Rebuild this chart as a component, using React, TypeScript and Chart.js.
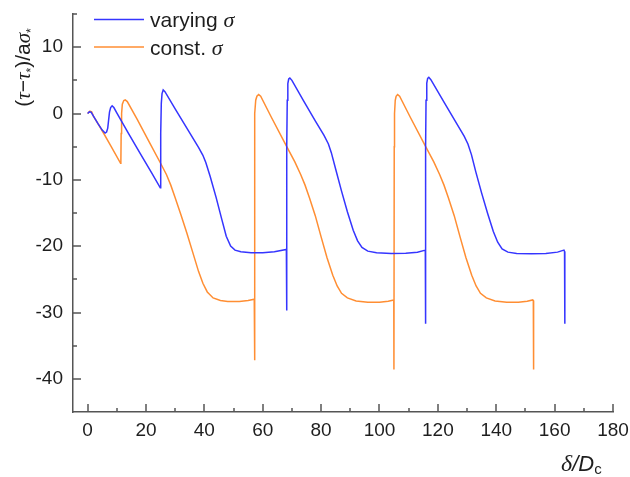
import React, { useEffect, useRef } from 'react';
import { Chart, registerables } from 'chart.js';

Chart.register(...registerables);

// ---------- data ----------
const varyingX = [
  0, 0.6, 1.2, 2.0, 3.5, 5.0, 6.0, 6.5, 6.9, 7.2, 7.5, 7.9, 8.4, 9.0, 10.0, 14.0, 18.0, 22.0, 24.9,
  25.0, 25.1, 25.25, 25.5, 25.9, 26.5, 30.0, 34.0, 38.0, 39.5, 40.5, 42.0, 44.0, 46.0, 47.5, 49.0,
  50.5, 52.5, 56.0, 60.0, 64.0, 68.1,
  68.15, 68.3, 68.4, 68.6, 68.9, 69.3, 70.0, 74.0, 78.0, 81.0, 82.5, 83.5, 85.0, 87.0, 89.0, 91.0,
  92.5, 94.0, 96.0, 99.0, 104.0, 109.0, 113.0, 115.7,
  115.75, 115.85, 115.95, 116.2, 116.5, 116.9, 117.6, 122.0, 126.0, 129.0, 130.3, 131.5, 133.0,
  135.0, 137.0, 139.0, 140.5, 142.0, 144.0, 147.0, 152.0, 157.0, 161.0, 163.2, 163.4, 163.5,
];
const varyingY = [
  0, 0.25, 0.2, -0.4, -1.5, -2.5, -2.95, -2.8, -2.2, -1.0, 0.2, 0.9, 1.15, 0.9, 0.1, -3.0, -6.0, -9.0, -11.2,
  -8.0, -3.0, 1.5, 3.0, 3.55, 3.3, 0.7, -2.2, -5.1, -6.3, -7.4, -9.5, -12.6, -16.0, -18.5, -20.0,
  -20.6, -20.85, -21.0, -21.0, -20.85, -20.5,
  -29.7, -5.0, 2.0, 4.5, 5.2, 5.35, 5.0, 1.9, -1.1, -3.3, -4.6, -5.9, -8.4, -11.7, -14.8, -17.6,
  -19.2, -20.2, -20.75, -21.0, -21.1, -21.05, -20.9, -20.6,
  -31.7, -5.0, 2.0, 4.6, 5.3, 5.45, 5.1, 1.8, -1.2, -3.4, -4.6, -6.2, -8.8,
  -12.0, -15.0, -17.8, -19.4, -20.4, -20.9, -21.1, -21.15, -21.1, -20.9, -20.6, -20.8, -31.7,
];

const constX = [
  0, 0.8, 1.4, 2.0, 3.5, 5.0, 8.0, 11.3, 11.4, 11.5, 11.65, 11.9, 12.4, 12.9, 13.6, 17.0, 21.0, 25.0,
  27.0, 28.5, 30.0, 32.0, 34.0, 36.0, 38.0, 39.5, 41.0, 43.0, 45.5, 48.0, 52.0, 55.0, 57.1,
  57.15, 57.25, 57.35, 57.6, 58.0, 58.6, 59.3, 63.0, 68.0, 71.0, 73.0, 74.5, 76.0, 78.0, 80.0, 82.0,
  84.0, 85.5, 87.0, 89.0, 92.0, 96.0, 100.0, 103.0, 104.9,
  104.95, 105.05, 105.15, 105.4, 105.7, 106.2, 106.9, 110.6, 115.6, 118.6, 120.6, 122.1, 123.6, 125.6,
  127.6, 129.6, 131.6, 133.1, 134.6, 136.6, 139.6, 143.6, 147.6, 150.6, 152.5, 152.7, 152.8,
];
const constY = [
  0, 0.35, 0.25, -0.4, -1.5, -2.6, -4.9, -7.5, -7.3, -3.0, 0.0, 1.4, 1.95, 2.05, 1.8, -0.9, -4.2, -7.5,
  -9.2, -10.8, -12.7, -15.3, -18.0, -20.9, -23.8, -25.6, -26.9, -27.8, -28.2, -28.35, -28.35, -28.2, -28.0,
  -37.2, -5.0, 0.0, 2.0, 2.6, 2.85, 2.6, -0.6, -4.8, -7.3, -9.2, -10.8, -12.7, -15.4, -18.6, -21.7,
  -24.4, -26.0, -27.1, -27.8, -28.25, -28.45, -28.45, -28.3, -28.1,
  -38.6, -5.0, 0.0, 2.0, 2.6, 2.85, 2.6, -0.6, -4.8, -7.3, -9.2, -10.8, -12.7, -15.4,
  -18.6, -21.7, -24.4, -26.0, -27.1, -27.8, -28.25, -28.45, -28.45, -28.3, -28.1, -28.2, -38.6,
];

const seriesNames = ['varying', 'const.'];
const seriesColors = ['#3535ff', '#ff8e33'];

const xTicks = [0, 20, 40, 60, 80, 100, 120, 140, 160, 180];
const xMinorTicks = [10, 30, 50, 70, 90, 110, 130, 150, 170];
const yTicks = [-40, -30, -20, -10, 0, 10];
const yMinorTicks = [-35, -25, -15, -5, 5, 15];

const AXIS = '#555555';
const TEXT = '#1e1e1e';
const SANS = "'Liberation Sans', Arial, sans-serif";
const SERIF = "'Liberation Serif', 'Times New Roman', serif";

type Piece = { t: string; font: string; dy?: number };

function drawPieces(ctx: CanvasRenderingContext2D, pieces: Piece[], x: number, y: number) {
  let cx = x;
  for (const p of pieces) {
    ctx.font = p.font;
    ctx.fillText(p.t, cx, y + (p.dy || 0));
    cx += ctx.measureText(p.t).width;
  }
}
function piecesWidth(ctx: CanvasRenderingContext2D, pieces: Piece[]) {
  let w = 0;
  for (const p of pieces) {
    ctx.font = p.font;
    w += ctx.measureText(p.t).width;
  }
  return w;
}

const decorPlugin = {
  id: 'decor',
  afterDraw(chart: any) {
    const ctx: CanvasRenderingContext2D = chart.ctx;
    const xs = chart.scales.x;
    const ys = chart.scales.y;
    const a = chart.chartArea;
    ctx.save();
    ctx.strokeStyle = AXIS;
    ctx.lineWidth = 1.5;
    const tick = (x1: number, y1: number, x2: number, y2: number) => {
      ctx.beginPath();
      ctx.moveTo(x1, y1);
      ctx.lineTo(x2, y2);
      ctx.stroke();
    };
    xTicks.forEach((v) => { const p = Math.round(xs.getPixelForValue(v)); tick(p, a.bottom, p, a.bottom - 8); });
    xMinorTicks.forEach((v) => { const p = Math.round(xs.getPixelForValue(v)); tick(p, a.bottom, p, a.bottom - 4); });
    yTicks.forEach((v) => { const p = Math.round(ys.getPixelForValue(v)); tick(a.left, p, a.left + 8, p); });
    yMinorTicks.forEach((v) => { const p = Math.round(ys.getPixelForValue(v)); tick(a.left, p, a.left + 4, p); });

    // legend
    ctx.fillStyle = TEXT;
    ctx.textBaseline = 'alphabetic';
    ctx.textAlign = 'left';
    const legendRows = [
      { lineY: 19.5, baseY: 27 },
      { lineY: 47, baseY: 55 },
    ];
    seriesNames.forEach((name, i) => {
      ctx.strokeStyle = seriesColors[i];
      ctx.lineWidth = 1.5;
      tick(94, legendRows[i].lineY, 144, legendRows[i].lineY);
      drawPieces(ctx, [
        { t: name + ' ', font: `21px ${SANS}` },
        { t: 'σ', font: `italic 22px ${SERIF}` },
      ], 150, legendRows[i].baseY);
    });

    // y-axis title (rotated)
    const yt: Piece[] = [
      { t: '(', font: `21px ${SANS}` },
      { t: 'τ', font: `italic 21px ${SERIF}` },
      { t: '−', font: `21px ${SANS}` },
      { t: 'τ', font: `italic 21px ${SERIF}` },
      { t: '*', font: `12px ${SANS}`, dy: 5 },
      { t: ')/a', font: `21px ${SANS}` },
      { t: 'σ', font: `italic 21px ${SERIF}` },
      { t: '*', font: `12px ${SANS}`, dy: 5 },
    ];
    ctx.save();
    ctx.translate(30, 67.5);
    ctx.rotate(-Math.PI / 2);
    const w = piecesWidth(ctx, yt);
    drawPieces(ctx, yt, -w / 2, 0);
    ctx.restore();

    // x-axis title
    drawPieces(ctx, [
      { t: 'δ', font: `italic 24px ${SERIF}` },
      { t: '/', font: `italic 22px ${SANS}` },
      { t: 'D', font: `italic 22px ${SANS}` },
      { t: 'c', font: `15px ${SANS}`, dy: 3 },
    ], 561, 470.5);

    ctx.restore();
  },
};

export default function App() {
  const ref = useRef<HTMLCanvasElement | null>(null);
  useEffect(() => {
    if (!ref.current) return;
    const mk = (xa: number[], ya: number[]) => xa.map((x, i) => ({ x, y: ya[i] }));
    const chart = new Chart(ref.current, {
      type: 'line',
      data: {
        datasets: [
          { label: seriesNames[0], data: mk(varyingX, varyingY), borderColor: seriesColors[0], borderWidth: 1.5, pointRadius: 0, tension: 0, fill: false },
          { label: seriesNames[1], data: mk(constX, constY), borderColor: seriesColors[1], borderWidth: 1.5, pointRadius: 0, tension: 0, fill: false },
        ],
      },
      options: {
        responsive: false,
        animation: false,
        layout: { padding: { top: 14, right: 17, left: 0, bottom: 0 } },
        plugins: { legend: { display: false }, tooltip: { enabled: false } },
        scales: {
          x: {
            type: 'linear',
            min: -5,
            max: 180,
            grid: { display: false, drawTicks: false },
            border: { display: true, color: AXIS, width: 1.5 },
            ticks: { padding: 7, color: TEXT, font: { family: SANS, size: 19 }, maxRotation: 0, autoSkip: false },
            afterBuildTicks: (s: any) => { s.ticks = xTicks.map((v) => ({ value: v })); },
            afterFit: (s: any) => { s.height = 65; s.paddingLeft = 0; s.paddingRight = 0; },
          },
          y: {
            type: 'linear',
            min: -45,
            max: 15,
            grid: { display: false, drawTicks: false },
            border: { display: true, color: AXIS, width: 1.5 },
            ticks: { padding: 10, color: TEXT, font: { family: SANS, size: 19 }, autoSkip: false },
            afterBuildTicks: (s: any) => { s.ticks = yTicks.map((v) => ({ value: v })); },
            afterFit: (s: any) => { s.width = 73; s.paddingTop = 0; s.paddingBottom = 0; },
          },
        },
      },
      plugins: [decorPlugin],
    } as any);
    return () => chart.destroy();
  }, []);
  return (
    <div style={{ position: 'fixed', left: 0, top: 0, width: 630, height: 477, background: '#fff' }}>
      <canvas ref={ref} width={630} height={477} style={{ display: 'block' }} />
    </div>
  );
}
